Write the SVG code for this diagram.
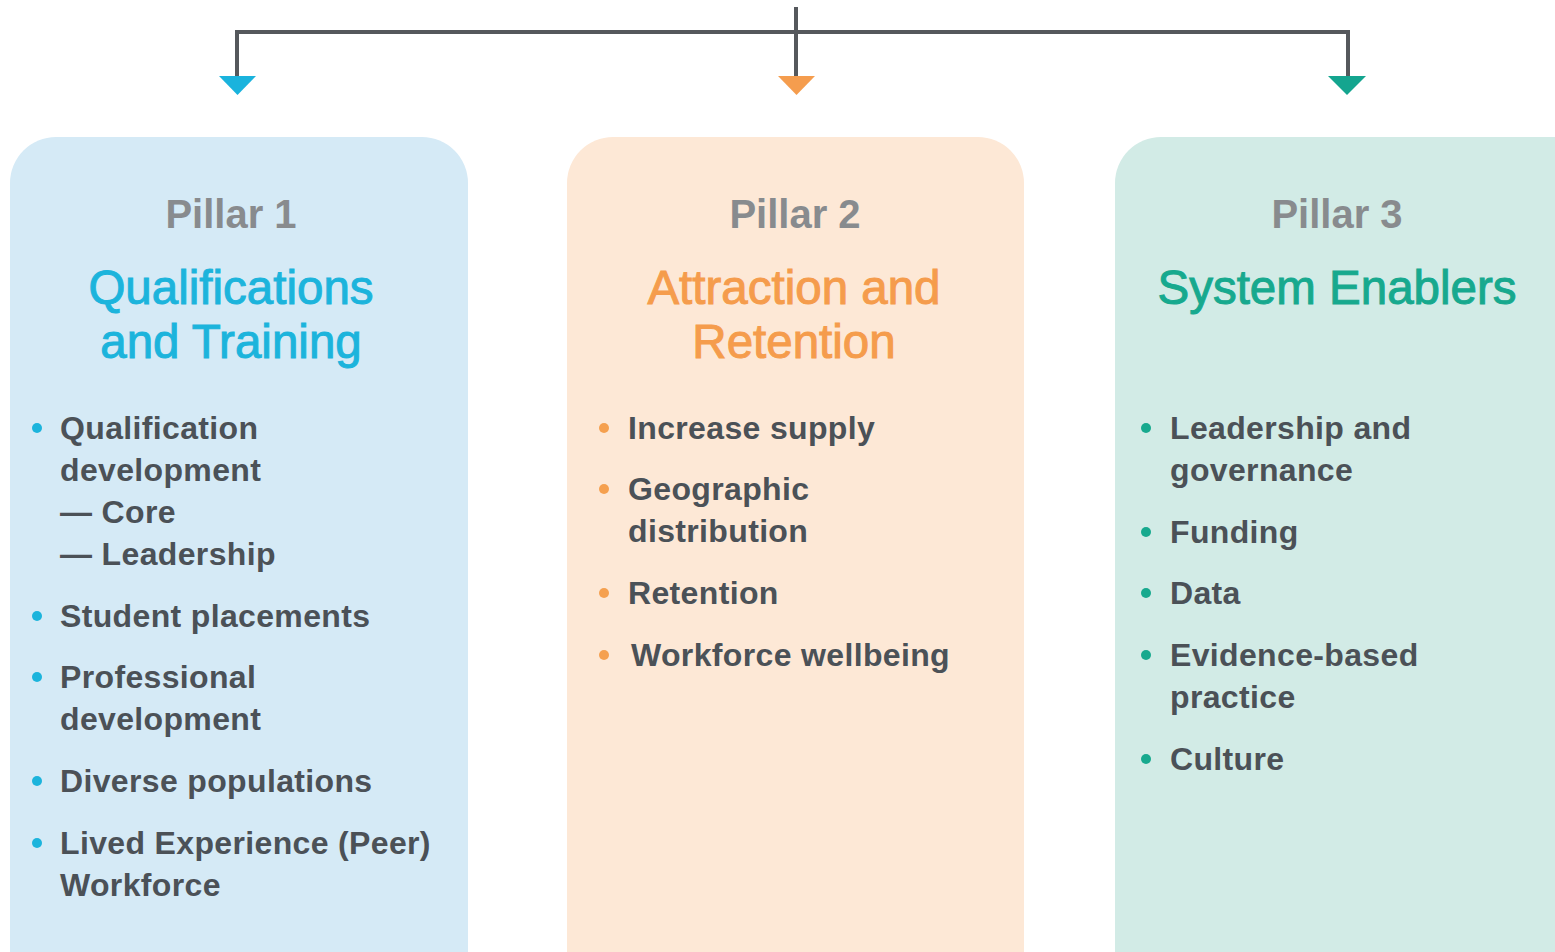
<svg xmlns="http://www.w3.org/2000/svg" width="1555" height="952" viewBox="0 0 1555 952">
<style>
.pill{font-family:"Liberation Sans",Arial,sans-serif;font-weight:bold;font-size:40px;fill:#888b8e;text-anchor:middle}
.ttl{font-family:"Liberation Sans",Arial,sans-serif;font-size:47.5px;text-anchor:middle;stroke-width:1}
.it{font-family:"Liberation Sans",Arial,sans-serif;font-weight:bold;font-size:32px;letter-spacing:0.35px;fill:#4b5157}
.conn{stroke:#55585c;stroke-width:4;fill:none}
</style>
<rect width="1555" height="952" fill="#ffffff"/>
<g id="connectors">
<path class="conn" d="M796 7 V80"/>
<path class="conn" d="M237 80 V32 H1348 V80"/>
<polygon points="219,76 256,76 237.5,95" fill="#1ab3dd"/>
<polygon points="778,76 815,76 796.5,95" fill="#f59d4e"/>
<polygon points="1328,76 1366,76 1347,95" fill="#14a58f"/>
</g>
<g id="pillar1">
<rect x="10" y="137" width="458" height="860" rx="46" fill="#d5eaf6"/>
<text class="pill" x="231" y="228">Pillar 1</text>
<text class="ttl" x="231" y="304" fill="#1cb4dc" stroke="#1cb4dc">Qualifications</text>
<text class="ttl" x="231" y="358" fill="#1cb4dc" stroke="#1cb4dc">and Training</text>
<g fill="#1cb4dc">
<circle cx="37" cy="428" r="5"/><circle cx="37" cy="616" r="5"/><circle cx="37" cy="677" r="5"/><circle cx="37" cy="781" r="5"/><circle cx="37" cy="843" r="5"/>
</g>
<text class="it" x="60" y="439">Qualification</text>
<text class="it" x="60" y="481">development</text>
<text class="it" x="60" y="523">— Core</text>
<text class="it" x="60" y="565">— Leadership</text>
<text class="it" x="60" y="627">Student placements</text>
<text class="it" x="60" y="688">Professional</text>
<text class="it" x="60" y="730">development</text>
<text class="it" x="60" y="792">Diverse populations</text>
<text class="it" x="60" y="854">Lived Experience (Peer)</text>
<text class="it" x="60" y="896">Workforce</text>
</g>
<g id="pillar2">
<rect x="567" y="137" width="457" height="860" rx="46" fill="#fde8d6"/>
<text class="pill" x="795" y="228">Pillar 2</text>
<text class="ttl" x="794" y="304" fill="#f59c4c" stroke="#f59c4c">Attraction and</text>
<text class="ttl" x="794" y="358" fill="#f59c4c" stroke="#f59c4c">Retention</text>
<g fill="#f5a04f">
<circle cx="604" cy="428" r="5"/><circle cx="604" cy="489" r="5"/><circle cx="604" cy="593" r="5"/><circle cx="604" cy="655" r="5"/>
</g>
<text class="it" x="628" y="439">Increase supply</text>
<text class="it" x="628" y="500">Geographic</text>
<text class="it" x="628" y="542">distribution</text>
<text class="it" x="628" y="604">Retention</text>
<text class="it" x="631" y="666">Workforce wellbeing</text>
</g>
<g id="pillar3">
<rect x="1115" y="137" width="500" height="860" rx="46" fill="#d2ebe6"/>
<text class="pill" x="1337" y="228">Pillar 3</text>
<text class="ttl" x="1337" y="304" fill="#17a98e" stroke="#17a98e">System Enablers</text>
<g fill="#17a98e">
<circle cx="1146" cy="428" r="5"/><circle cx="1146" cy="532" r="5"/><circle cx="1146" cy="593" r="5"/><circle cx="1146" cy="655" r="5"/><circle cx="1146" cy="759" r="5"/>
</g>
<text class="it" x="1170" y="439">Leadership and</text>
<text class="it" x="1170" y="481">governance</text>
<text class="it" x="1170" y="543">Funding</text>
<text class="it" x="1170" y="604">Data</text>
<text class="it" x="1170" y="666">Evidence-based</text>
<text class="it" x="1170" y="708">practice</text>
<text class="it" x="1170" y="770">Culture</text>
</g>
</svg>
